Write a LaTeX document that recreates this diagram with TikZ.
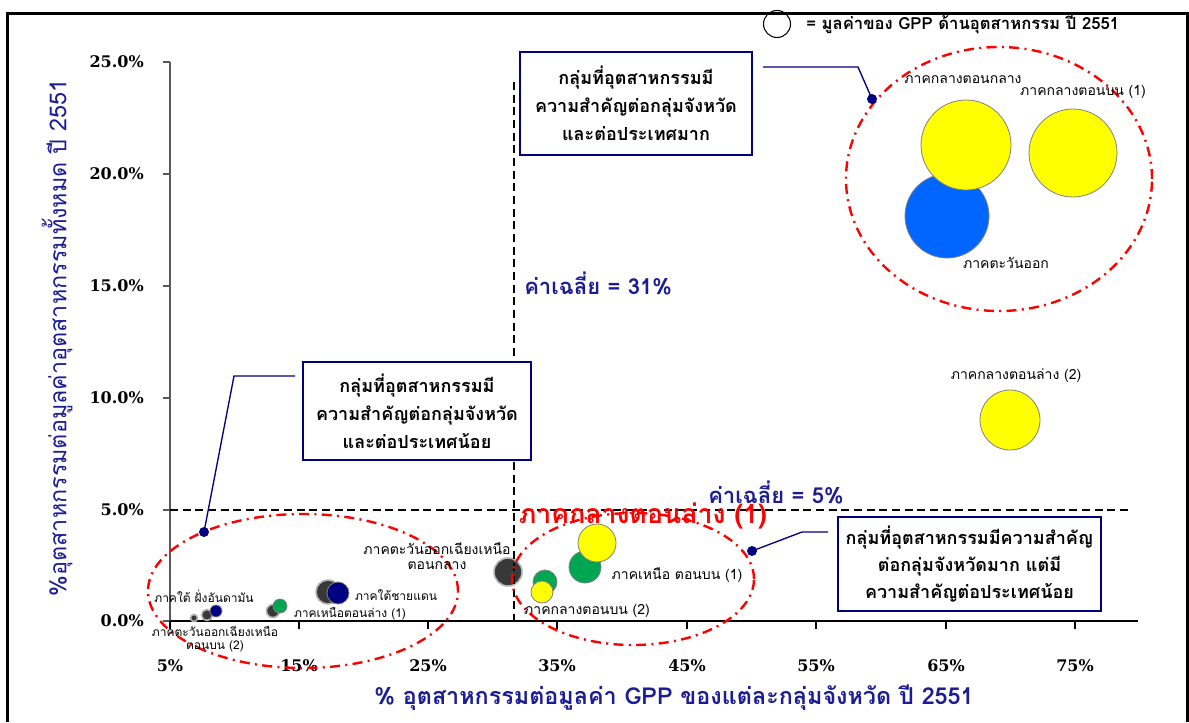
\documentclass[tikz,border=0pt]{standalone}
\usepackage{fontspec}
\usetikzlibrary{shapes.geometric}
\newfontfamily\thai[Script=Thai]{Loma}
\newfontfamily\tickf{DejaVu Serif}
\newdimen\pxu \pxu=0.75pt
\definecolor{navyb}{HTML}{000080}
\definecolor{titleblue}{HTML}{1C1C94}
\definecolor{bblue}{HTML}{0066FF}
\definecolor{bgreen}{HTML}{00A651}
\definecolor{dgray}{HTML}{383838}
\definecolor{byellow}{HTML}{FFFF00}
\begin{document}
\begin{tikzpicture}[x=0.75pt,y=-0.75pt,
  frameline/.style={line width=3\pxu},
  tickl/.style={font=\tickf\bfseries\fontsize{12}{14}\selectfont, inner sep=0},
  avgline/.style={dash pattern=on 6pt off 3.5pt, line width=1.1pt},
  grp/.style={ellipse, draw=red, line width=1.8pt, dash pattern=on 7.5pt off 4pt on 1.5pt off 4pt, inner sep=0},
  qbox/.style={draw=navyb, line width=1.1pt, fill=white, align=center, font=\thai\bfseries\fontsize{13.5}{21}\selectfont, inner sep=0},
  lead/.style={draw=navyb, line width=1pt},
  dotm/.style={circle, fill=navyb, inner sep=0, minimum size=10\pxu},
  bub/.style={circle, draw=gray, line width=0.6pt, inner sep=0, minimum size=#1\pxu},
  shb/.style={circle, fill=dgray, draw=gray!60, line width=1.2pt, inner sep=0, minimum size=#1\pxu},
  lab/.style={font=\thai\fontsize{10.5}{11}\selectfont, inner sep=0},
  slab/.style={font=\thai\fontsize{9}{11}\selectfont, inner sep=0, align=center},
  avglab/.style={font=\thai\bfseries\fontsize{16.5}{18}\selectfont, text=titleblue, inner sep=0, anchor=west}
]
\useasboundingbox (0,0) rectangle (1189,722);
% frame
\draw[frameline] (7,722) -- (7,13) -- (1187,13) -- (1187,722);

% legend
\node[circle, draw=black, line width=0.8pt, inner sep=0, minimum size=27\pxu] (leg) at (777,24) {};
\node[font=\thai\bfseries\fontsize{12.5}{14}\selectfont, anchor=west, inner sep=0] (legt) at (806,25) {= มูลค่าของ GPP ด้านอุตสาหกรรม ปี 2551};

% axes
\coordinate (o) at (170,621);
\coordinate (ytop) at (170,62);
\coordinate (xend) at (1138,621);
\draw[gray!70!black, line width=0.8pt] (o) -- (ytop);
\draw[black, line width=1.2pt] (o) -- (xend);
\foreach \yy/\lab in {62/25.0\%,174/20.0\%,286/15.0\%,398/10.0\%,510/5.0\%,621/0.0\%}{
  \draw[gray!70!black, line width=0.8pt] (163,\yy) -- (170,\yy);
  \node[tickl, anchor=east] at (144,\yy) {\lab};
}
\foreach \xx/\lab in {170/5\%,299/15\%,428/25\%,557/35\%,687/45\%,816/55\%,946/65\%,1075/75\%}{
  \draw[black, line width=1pt] (\xx,621) -- (\xx,629);
  \node[tickl] at (\xx,666) {\lab};
}

% axis titles
\node[rotate=90, font=\thai\fontsize{17.5}{19}\selectfont, text=titleblue, inner sep=0] (ytitle) at (57,338) {\%อุตสาหกรรมต่อมูลค่าอุตสาหกรรมทั้งหมด ปี 2551};
\node[font=\thai\bfseries\fontsize{17.5}{19}\selectfont, text=titleblue, inner sep=0] (xtitle) at (674,698) {\% อุตสาหกรรมต่อมูลค่า GPP ของแต่ละกลุ่มจังหวัด ปี 2551};

% bubbles top right
\node[bub=84, fill=bblue] (east) at (947,216) {};
\node[bub=90, fill=byellow] (cc) at (966,145) {};
\node[bub=88, fill=byellow] (cu1) at (1073,153) {};
\node[bub=60, fill=byellow] (cl2) at (1010,420) {};
% middle cluster
\node[shb=28] (ne1) at (508,572) {};
\node[bub=32, fill=bgreen] (nu1g) at (585,567) {};
\node[bub=38, fill=byellow] (cl1) at (597,543) {};
\node[bub=24, fill=bgreen] (g2) at (545,582) {};
\node[bub=22, fill=byellow] (cu2) at (542,592) {};
% bottom left cluster
\node[shb=24] (sbg) at (328,592) {};
\node[bub=22, fill=navyb] (sb) at (338,593) {};
\node[shb=13] (nl1g) at (273,611) {};
\node[bub=14, fill=bgreen] (nl1) at (280,606) {};
\node[shb=11] (sag) at (207,615) {};
\node[bub=12, fill=navyb] (sa) at (216,611) {};
\node[shb=7] (neu2) at (194,618) {};

% average lines
\draw[avgline] (514,82) -- (514,621);
\draw[avgline] (170,510) -- (1128,510);
\node[avglab] (avg31) at (524,283) {ค่าเฉลี่ย = 31\%};
\node[avglab] (avg5) at (708,492) {ค่าเฉลี่ย = 5\%};

% group ellipses
\node[grp, minimum width=306\pxu, minimum height=264\pxu] (e1) at (999,179) {};
\node[grp, minimum width=310\pxu, minimum height=154\pxu] (e2) at (303,591) {};
\node[grp, minimum width=242\pxu, minimum height=132\pxu] (e3) at (633,579) {};

% labels
\node[lab] at (963,80) {ภาคกลางตอนกลาง};
\node[lab] at (1083,92) {ภาคกลางตอนบน (1)};
\node[lab] at (1006,263) {ภาคตะวันออก};
\node[lab] at (1016,376) {ภาคกลางตอนล่าง (2)};
\node[lab] at (677,575) {ภาคเหนือ ตอนบน (1)};
\node[lab] at (587,611) {ภาคกลางตอนบน (2)};
\node[lab, align=center, font=\thai\fontsize{10.5}{11.5}\selectfont] at (437,556) {ภาคตะวันออกเฉียงเหนือ\\ตอนกลาง};
\node[slab] at (204,596) {ภาคใต้ ฝั่งอันดามัน};
\node[slab] at (396,595) {ภาคใต้ชายแดน};
\node[slab] at (350,614) {ภาคเหนือตอนล่าง (1)};
\node[slab, font=\thai\fontsize{9}{10}\selectfont] at (215,639) {ภาคตะวันออกเฉียงเหนือ\\ตอนบน (2)};
\node[font=\thai\bfseries\fontsize{20}{22}\selectfont, text=red, inner sep=0] (cl1lab) at (643,516) {ภาคกลางตอนล่าง (1)};

% boxes
\node[qbox, minimum width=232\pxu, minimum height=103\pxu] (box1) at (636,103.5) {กลุ่มที่อุตสาหกรรมมี\\ความสำคัญต่อกลุ่มจังหวัด\\และต่อประเทศมาก};
\node[qbox, minimum width=228\pxu, minimum height=98\pxu] (box2) at (417,411) {กลุ่มที่อุตสาหกรรมมี\\ความสำคัญต่อกลุ่มจังหวัด\\และต่อประเทศน้อย};
\node[qbox, minimum width=263\pxu, minimum height=94\pxu, font=\thai\bfseries\fontsize{13.5}{20}\selectfont] (box3) at (969.5,564) {กลุ่มที่อุตสาหกรรมมีความสำคัญ\\ต่อกลุ่มจังหวัดมาก แต่มี\\ความสำคัญต่อประเทศน้อย};

% leaders
\node[dotm] (d1) at (872,99) {};
\node[dotm] (d2) at (204,532) {};
\node[dotm] (d3) at (752,551) {};
\coordinate (c1) at (763,67);
\coordinate (c2) at (295,376);
\coordinate (c3) at (828,532);
\draw[lead] (c1) -- (858,67) -- (d1.center);
\draw[lead] (c2) -- (234,376) -- (d2.center);
\draw[lead] (c3) -- (802,532) -- (d3.center);
\end{tikzpicture}
\end{document}
